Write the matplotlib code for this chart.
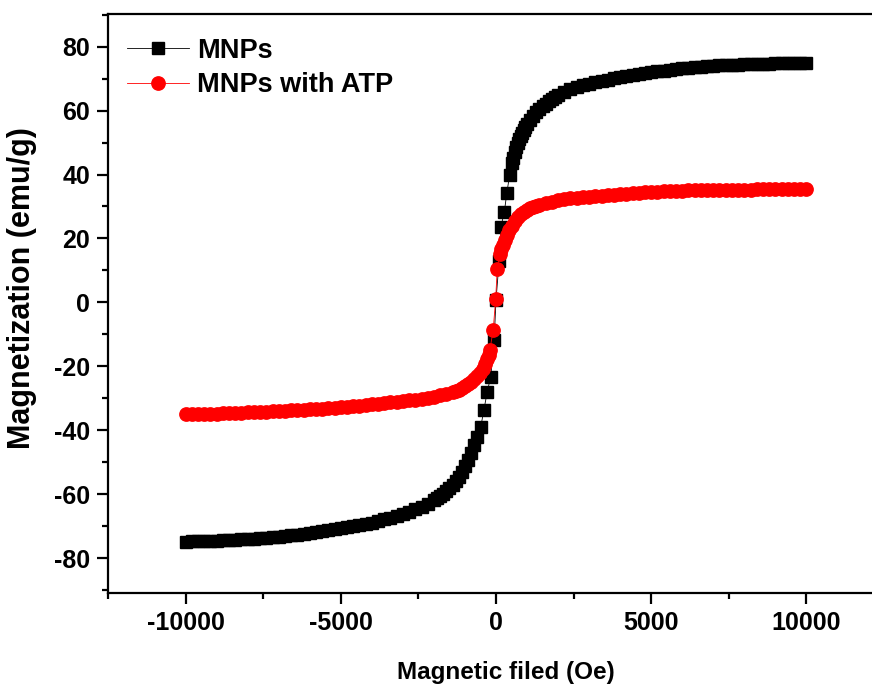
import matplotlib
matplotlib.use("Agg")
import matplotlib.pyplot as plt
from matplotlib.ticker import MultipleLocator

plt.rcParams['font.family'] = ['Liberation Sans', 'DejaVu Sans']
plt.rcParams['font.weight'] = 'bold'
plt.rcParams['axes.unicode_minus'] = False

# ---- data ----
mnps_h = [-10000, -9800, -9600, -9400, -9200, -9000, -8800, -8600, -8400, -8200,
          -8000, -7800, -7600, -7400, -7200, -7000, -6800, -6600, -6400, -6200,
          -6000, -5800, -5600, -5400, -5200, -5000, -4800, -4600, -4400, -4200,
          -4000, -3800, -3600, -3400, -3200, -3000, -2800, -2600, -2400, -2200,
          -2000, -1900, -1800, -1700, -1600, -1500, -1400, -1300, -1200, -1100,
          -1000, -900, -800, -700, -600, -490, -390, -280, -170, -60,
          0, 100, 160, 270, 350, 440, 500, 550, 600, 650,
          700, 750, 800, 850, 900, 950, 1000, 1100, 1200, 1300,
          1400, 1500, 1600, 1700, 1800, 1900, 2000, 2200, 2400, 2600,
          2800, 3000, 3200, 3400, 3600, 3800, 4000, 4200, 4400, 4600,
          4800, 5000, 5200, 5400, 5600, 5800, 6000, 6200, 6400, 6600,
          6800, 7000, 7200, 7400, 7600, 7800, 8000, 8200, 8400, 8600,
          8800, 9000, 9200, 9400, 9600, 9800, 10000]
mnps_m = [-74.8, -74.7, -74.7, -74.6, -74.5, -74.5, -74.4, -74.3, -74.2, -74.1,
          -74.0, -73.9, -73.8, -73.6, -73.5, -73.3, -73.1, -72.9, -72.7, -72.4,
          -72.2, -71.9, -71.6, -71.3, -71.0, -70.7, -70.4, -70.0, -69.7, -69.3,
          -68.9, -68.4, -67.9, -67.4, -66.8, -66.2, -65.5, -64.7, -63.9, -63.0,
          -61.9, -61.3, -60.6, -59.8, -59.0, -58.1, -57.0, -55.8, -54.5, -53.0,
          -51.2, -49.2, -47.0, -44.6, -42.2, -38.9, -33.6, -27.9, -23.2, -11.7,
          0.8, 12.8, 23.7, 28.4, 34.3, 39.9, 43.5, 45.3, 47.0, 48.5,
          49.8, 51.0, 52.0, 53.0, 54.0, 54.9, 55.7, 57.2, 58.4, 59.5,
          60.5, 61.4, 62.2, 62.9, 63.6, 64.2, 64.8, 65.8, 66.6, 67.3,
          67.9, 68.4, 68.9, 69.3, 69.7, 70.1, 70.5, 70.8, 71.1, 71.4,
          71.7, 72.0, 72.3, 72.5, 72.8, 73.0, 73.2, 73.4, 73.5, 73.7,
          73.8, 74.0, 74.1, 74.2, 74.3, 74.4, 74.5, 74.5, 74.6, 74.7,
          74.7, 74.8, 74.8, 74.9, 74.9, 74.9, 74.9]

atp_h = [-10000, -9800, -9600, -9400, -9200, -9000, -8800, -8600, -8400, -8200,
         -8000, -7800, -7600, -7400, -7200, -7000, -6800, -6600, -6400, -6200,
         -6000, -5800, -5600, -5400, -5200, -5000, -4800, -4600, -4400, -4200,
         -4000, -3800, -3600, -3400, -3200, -3000, -2800, -2600, -2400, -2200,
         -2000, -1800, -1600, -1400, -1300, -1200, -1100, -1000, -900, -800,
         -700, -600, -500, -420, -350, -290, -240, -200, -90, -10,
         40, 120, 170, 220, 280, 350, 420, 500, 600, 700,
         800, 900, 1000, 1100, 1200, 1300, 1400, 1600, 1800, 2000,
         2200, 2400, 2600, 2800, 3000, 3200, 3400, 3600, 3800, 4000,
         4200, 4400, 4600, 4800, 5000, 5200, 5400, 5600, 5800, 6000,
         6200, 6400, 6600, 6800, 7000, 7200, 7400, 7600, 7800, 8000,
         8200, 8400, 8600, 8800, 9000, 9200, 9400, 9600, 9800, 10000]
atp_m = [-35.0, -35.0, -34.9, -34.9, -34.8, -34.8, -34.7, -34.6, -34.6, -34.5,
         -34.4, -34.4, -34.3, -34.2, -34.1, -34.0, -33.9, -33.8, -33.7, -33.6,
         -33.4, -33.3, -33.2, -33.0, -32.9, -32.7, -32.6, -32.4, -32.3, -32.1,
         -31.9, -31.7, -31.5, -31.3, -31.1, -30.9, -30.6, -30.4, -30.1, -29.8,
         -29.5, -29.1, -28.6, -28.1, -27.7, -27.3, -26.8, -26.3, -25.6, -24.9,
         -24.1, -23.1, -22.0, -20.7, -19.3, -17.8, -16.3, -15.0, -8.6, 1.2,
         10.5, 15.2, 16.6, 18.0, 19.6, 21.2, 22.6, 24.0, 25.4, 26.6,
         27.6, 28.3, 28.9, 29.4, 29.8, 30.2, 30.5, 31.0, 31.5, 31.9,
         32.2, 32.5, 32.7, 32.9, 33.1, 33.3, 33.4, 33.6, 33.7, 33.9,
         34.0, 34.1, 34.2, 34.4, 34.5, 34.6, 34.7, 34.8, 34.8, 34.9,
         35.0, 35.0, 35.1, 35.1, 35.2, 35.2, 35.2, 35.3, 35.3, 35.3,
         35.3, 35.4, 35.4, 35.4, 35.4, 35.4, 35.5, 35.5, 35.5, 35.5]

x_ticks = [-10000, -5000, 0, 5000, 10000]
y_ticks = [-80, -60, -40, -20, 0, 20, 40, 60, 80]

fig = plt.figure(figsize=(8.72, 6.84), dpi=100)
W, H = 872, 684
left, right, top, bottom = 108, 884, 14, 592.7
ax = fig.add_axes([left / W, 1 - bottom / H, (right - left) / W, (bottom - top) / H])

ax.plot(mnps_h, mnps_m, color='black', lw=0.6, marker='s', ms=8.8,
        mec='black', mfc='black', label='MNPs', zorder=2)
ax.plot(atp_h, atp_m, color='red', lw=0.6, marker='o', ms=9.6,
        mec='red', mfc='red', label='MNPs with ATP', zorder=3)

ax.set_xlim(-12500, 12500)
ax.set_ylim(-90.8, 90.2)
ax.set_xticks(x_ticks)
ax.set_yticks(y_ticks)
ax.xaxis.set_minor_locator(MultipleLocator(2500))
ax.yaxis.set_minor_locator(MultipleLocator(10))

for s in ['left', 'bottom', 'top']:
    ax.spines[s].set_linewidth(1.6)
ax.spines['right'].set_visible(False)
ax.tick_params(axis='both', which='major', direction='out', length=8, width=1.6,
               labelsize=18, pad=5)
ax.tick_params(axis='both', which='minor', direction='out', length=4.5, width=1.6)
ax.tick_params(top=False, which='both')
for lab in ax.get_xticklabels() + ax.get_yticklabels():
    lab.set_fontweight('bold')

ax.set_xlabel('Magnetic filed (Oe)', fontsize=17.5, fontweight='bold')
ax.xaxis.set_label_coords((506 - left) / (right - left), -(672 - bottom) / (bottom - top))
ax.set_ylabel('Magnetization (emu/g)', fontsize=22, fontweight='bold')
ax.yaxis.set_label_coords(-(108 - 22) / (right - left), (bottom - 288) / (bottom - top))
ax.xaxis.label.set_va('center')
ax.yaxis.label.set_va('center')

leg = ax.legend(loc='upper left', bbox_to_anchor=(0.0, 0.992), frameon=False,
                fontsize=19.5, handlelength=2.3, handletextpad=0.3,
                labelspacing=0.32, borderaxespad=0.3)
for t in leg.get_texts():
    t.set_fontweight('bold')

fig.savefig('out.png', dpi=100)
